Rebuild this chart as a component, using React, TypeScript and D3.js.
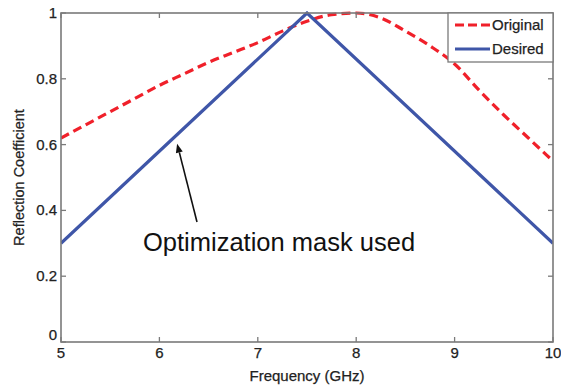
import React from "react";
import * as d3 from "d3";

const freqOriginal = [5.0, 5.25, 5.5, 5.75, 6.0, 6.25, 6.5, 6.75, 7.0, 7.25, 7.5, 7.75, 8.0, 8.25, 8.5, 8.75, 9.0, 9.25, 9.5, 9.75, 10.0];
const valOriginal = [0.62, 0.66, 0.70, 0.74, 0.78, 0.815, 0.85, 0.88, 0.91, 0.945, 0.975, 0.995, 1.0, 0.985, 0.945, 0.90, 0.845, 0.765, 0.69, 0.62, 0.55];
const freqDesired = [5, 7.5, 10];
const valDesired = [0.3, 1.0, 0.3];
const xTicks = [5, 6, 7, 8, 9, 10];
const yTicks = [0, 0.2, 0.4, 0.6, 0.8, 1];
const yTickLabels = ["0", "0.2", "0.4", "0.6", "0.8", "1"];
const legendLabels = ["Original", "Desired"];
const annotationText = "Optimization mask used";
const annotationTarget = [6.18, 0.615];

const W = 561, H = 390;
const L = 61, R = 553, T = 13, B = 342;
const FONT = "Arial, 'Liberation Sans', Helvetica, sans-serif";
const AXIS = "#7a7a7a";
const RED = "#f0202a";
const BLUE = "#3f56a8";
const TXT = "#222";

export default function App() {
  const x = d3.scaleLinear().domain([5, 10]).range([L, R]);
  const y = d3.scaleLinear().domain([0, 1]).range([B, T]);

  const origPts: [number, number][] = freqOriginal.map((f, i) => [f, valOriginal[i]]);
  const desPts: [number, number][] = freqDesired.map((f, i) => [f, valDesired[i]]);
  const curve = d3.line<[number, number]>().x(d => x(d[0])).y(d => y(d[1])).curve(d3.curveMonotoneX);
  const straight = d3.line<[number, number]>().x(d => x(d[0])).y(d => y(d[1]));

  const tipX = x(annotationTarget[0]);
  const tipY = y(annotationTarget[1]) + 4;
  const tailX = 197, tailY = 222;
  const ang = Math.atan2(tipY - tailY, tipX - tailX);
  const ah = 9, aw = 3.5;
  const bx = tipX - ah * Math.cos(ang), by = tipY - ah * Math.sin(ang);
  const head = `M${tipX},${tipY} L${bx + aw * Math.sin(ang)},${by - aw * Math.cos(ang)} L${bx - aw * Math.sin(ang)},${by + aw * Math.cos(ang)} Z`;

  const textStyle = { stroke: TXT, strokeWidth: 0.25 } as React.CSSProperties;

  return (
    <svg width={W} height={H} style={{ position: "absolute", left: 0, top: 0, background: "#fff" }} fontFamily={FONT}>
      <rect x={0} y={0} width={W} height={H} fill="#fff" />
      <defs>
        <clipPath id="plotclip">
          <rect x={L} y={T - 2} width={R - L} height={B - T + 4} />
        </clipPath>
      </defs>
      <g clipPath="url(#plotclip)">
        <path d={curve(origPts) || ""} fill="none" stroke={RED} strokeWidth={3.2} strokeDasharray="9,5" />
        <path d={straight(desPts) || ""} fill="none" stroke={BLUE} strokeWidth={3.2} strokeLinejoin="miter" />
      </g>
      <rect x={L} y={T} width={R - L} height={B - T} fill="none" stroke={AXIS} strokeWidth={1.6} />
      {xTicks.map(t => (
        <g key={"xt" + t}>
          <line x1={x(t)} x2={x(t)} y1={B} y2={B - 5} stroke={AXIS} strokeWidth={1.3} />
          <line x1={x(t)} x2={x(t)} y1={T} y2={T + 5} stroke={AXIS} strokeWidth={1.3} />
          <text x={x(t)} y={B + 16} textAnchor="middle" fontSize={15} fill={TXT} style={textStyle}>{t}</text>
        </g>
      ))}
      {yTicks.map((t, i) => (
        <g key={"yt" + t}>
          <line x1={L} x2={L + 5} y1={y(t)} y2={y(t)} stroke={AXIS} strokeWidth={1.3} />
          <line x1={R} x2={R - 5} y1={y(t)} y2={y(t)} stroke={AXIS} strokeWidth={1.3} />
          <text x={L - 4} y={y(t) + (t === 0 ? -2 : 5)} textAnchor="end" fontSize={15} fill={TXT} style={textStyle}>{yTickLabels[i]}</text>
        </g>
      ))}
      <text x={(L + R) / 2} y={381} textAnchor="middle" fontSize={15} fill={TXT} style={textStyle}>Frequency (GHz)</text>
      <text transform={`translate(24,${(T + B) / 2}) rotate(-90)`} textAnchor="middle" fontSize={14.5} fill={TXT} style={textStyle}>Reflection Coefficient</text>
      <rect x={448} y={T} width={R - 448} height={49} fill="#fff" stroke={AXIS} strokeWidth={1.3} />
      <line x1={455} x2={490} y1={25} y2={25} stroke={RED} strokeWidth={3.2} strokeDasharray="9,4" />
      <line x1={455} x2={490} y1={49} y2={49} stroke={BLUE} strokeWidth={3.2} />
      <text x={492} y={30} fontSize={15} fill={TXT} style={textStyle}>{legendLabels[0]}</text>
      <text x={492} y={54} fontSize={15} fill={TXT} style={textStyle}>{legendLabels[1]}</text>
      <line x1={tailX} y1={tailY} x2={bx} y2={by} stroke="#111" strokeWidth={1.6} />
      <path d={head} fill="#111" />
      <text x={143} y={251} fontSize={25.5} fill="#111">{annotationText}</text>
    </svg>
  );
}
